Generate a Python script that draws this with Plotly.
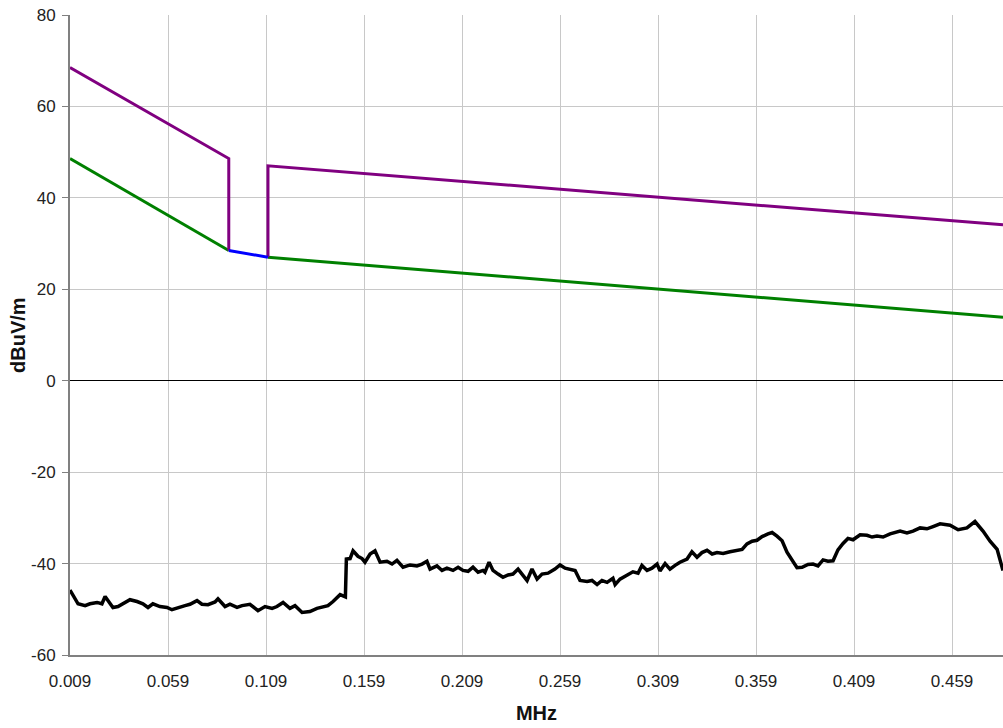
import plotly.graph_objects as go

# Limit lines (MHz, dBuV/m)
purple_f = [0.009, 0.090, 0.090]
purple_v = [68.5, 48.6, 28.5]
purple2_f = [0.110, 0.110, 0.485]
purple2_v = [27.0, 47.0, 34.1]
green_f = [0.009, 0.090]
green_v = [48.6, 28.5]
blue_f = [0.090, 0.110]
blue_v = [28.5, 27.0]
green2_f = [0.110, 0.485]
green2_v = [27.0, 13.9]

# Measured trace
meas_f = [0.0090, 0.0131, 0.0167, 0.0192, 0.0228, 0.0253, 0.0269, 0.0284, 0.0309, 0.0335,
          0.0371, 0.0396, 0.0432, 0.0462, 0.0488, 0.0513, 0.0549, 0.0585, 0.0610, 0.0641,
          0.0677, 0.0702, 0.0738, 0.0763, 0.0794, 0.0830, 0.0845, 0.0881, 0.0906, 0.0942,
          0.0968, 0.1008, 0.1049, 0.1085, 0.1121, 0.1146, 0.1177, 0.1212, 0.1238, 0.1274,
          0.1314, 0.1350, 0.1381, 0.1406, 0.1432, 0.1468, 0.1495, 0.1500, 0.1519, 0.1534,
          0.1559, 0.1580, 0.1595, 0.1621, 0.1646, 0.1672, 0.1707, 0.1733, 0.1758, 0.1789,
          0.1825, 0.1860, 0.1886, 0.1911, 0.1927, 0.1962, 0.1988, 0.2013, 0.2044, 0.2070,
          0.2095, 0.2121, 0.2146, 0.2172, 0.2197, 0.2207, 0.2228, 0.2248, 0.2274, 0.2299,
          0.2325, 0.2350, 0.2376, 0.2401, 0.2422, 0.2447, 0.2473, 0.2498, 0.2529, 0.2564,
          0.2590, 0.2616, 0.2641, 0.2667, 0.2692, 0.2728, 0.2753, 0.2779, 0.2804, 0.2830,
          0.2860, 0.2871, 0.2896, 0.2932, 0.2962, 0.2988, 0.3008, 0.3034, 0.3059, 0.3085,
          0.3100, 0.3126, 0.3151, 0.3177, 0.3202, 0.3238, 0.3263, 0.3289, 0.3314, 0.3340,
          0.3366, 0.3391, 0.3422, 0.3457, 0.3493, 0.3519, 0.3544, 0.3570, 0.3595, 0.3621,
          0.3651, 0.3672, 0.3697, 0.3723, 0.3748, 0.3774, 0.3799, 0.3825, 0.3855, 0.3881,
          0.3906, 0.3932, 0.3957, 0.3983, 0.4008, 0.4034, 0.4059, 0.4085, 0.4121, 0.4156,
          0.4182, 0.4207, 0.4238, 0.4274, 0.4325, 0.4360, 0.4391, 0.4427, 0.4462, 0.4493,
          0.4529, 0.4580, 0.4621, 0.4666, 0.4707, 0.4748, 0.4784, 0.4820, 0.4850]
meas_v = [-45.8, -48.8, -49.2, -48.8, -48.5, -48.8, -47.2, -48.1, -49.6, -49.4,
          -48.5, -47.9, -48.3, -48.8, -49.6, -48.8, -49.4, -49.6, -50.1, -49.6,
          -49.2, -48.9, -48.1, -48.9, -49.0, -48.4, -47.7, -49.4, -48.9, -49.6,
          -49.2, -48.9, -50.3, -49.4, -49.8, -49.4, -48.5, -49.8, -49.2, -50.7,
          -50.5, -49.8, -49.4, -49.2, -48.3, -46.8, -47.3, -39.0, -38.9, -37.2,
          -38.4, -38.9, -39.7, -37.9, -37.2, -39.7, -39.5, -40.1, -39.3, -40.8,
          -40.3, -40.5, -40.1, -39.5, -41.2, -40.5, -41.5, -41.0, -41.5, -40.8,
          -41.5, -41.7, -40.8, -41.9, -41.5, -41.9, -39.7, -41.5, -42.3, -43.0,
          -42.5, -42.3, -41.2, -42.7, -43.7, -41.2, -43.4, -42.3, -42.1, -41.2,
          -40.3, -41.0, -41.2, -41.5, -43.7, -43.9, -43.7, -44.6, -43.7, -44.1,
          -43.2, -44.6, -43.4, -42.5, -41.8, -42.1, -40.4, -41.5, -41.0, -40.1,
          -41.6, -40.0, -41.2, -40.4, -39.7, -39.0, -37.4, -38.6, -37.6, -37.1,
          -37.9, -37.6, -37.8, -37.4, -37.2, -36.9, -35.7, -35.1, -34.9, -34.1,
          -33.5, -33.2, -34.0, -35.0, -37.5, -39.3, -40.9, -40.8, -40.2, -40.1,
          -40.5, -39.2, -39.5, -39.4, -37.0, -35.6, -34.5, -34.8, -33.7, -33.8,
          -34.2, -34.0, -34.2, -33.5, -32.9, -33.3, -32.9, -32.2, -32.4, -31.9,
          -31.3, -31.6, -32.6, -32.2, -30.8, -32.9, -35.1, -36.9, -41.5]

x_tickvals = [0.009, 0.059, 0.109, 0.159, 0.209, 0.259, 0.309, 0.359, 0.409, 0.459]
x_ticktext = ["0.009", "0.059", "0.109", "0.159", "0.209", "0.259", "0.309", "0.359", "0.409", "0.459"]
y_tickvals = [-60, -40, -20, 0, 20, 40, 60, 80]
y_ticktext = ["-60", "-40", "-20", "0", "20", "40", "60", "80"]

fig = go.Figure()
fig.add_trace(go.Scatter(x=meas_f, y=meas_v, mode="lines",
                         line=dict(color="#000000", width=3.5), showlegend=False))
fig.add_trace(go.Scatter(x=green_f, y=green_v, mode="lines",
                         line=dict(color="#008000", width=3), showlegend=False))
fig.add_trace(go.Scatter(x=green2_f, y=green2_v, mode="lines",
                         line=dict(color="#008000", width=3), showlegend=False))
fig.add_trace(go.Scatter(x=purple_f, y=purple_v, mode="lines",
                         line=dict(color="#800080", width=3), showlegend=False))
fig.add_trace(go.Scatter(x=purple2_f, y=purple2_v, mode="lines",
                         line=dict(color="#800080", width=3), showlegend=False))
fig.add_trace(go.Scatter(x=blue_f, y=blue_v, mode="lines",
                         line=dict(color="#0000FF", width=3), showlegend=False))

tick_font = dict(family="Liberation Sans, Arial", size=17, color="#222222")
title_font = dict(family="Liberation Sans, Arial", size=20, color="#111111")

fig.update_layout(
    width=1003, height=728,
    margin=dict(l=70, r=0, t=15, b=73),
    paper_bgcolor="white", plot_bgcolor="white",
    xaxis=dict(
        range=[0.009, 0.485], tickvals=x_tickvals, ticktext=x_ticktext,
        showgrid=True, gridcolor="#c8c8c8", gridwidth=1,
        showline=True, linecolor="#808080", linewidth=2,
        ticks="", tickfont=tick_font, zeroline=False, ticklabelstandoff=10,
        ticklabeloverflow="allow",
        title=dict(text="<b>MHz</b>", font=title_font, standoff=16),
    ),
    yaxis=dict(
        range=[-60, 80], tickvals=y_tickvals, ticktext=y_ticktext,
        showgrid=True, gridcolor="#c8c8c8", gridwidth=1,
        showline=True, linecolor="#808080", linewidth=2,
        ticks="outside", ticklen=6, tickcolor="#808080", tickfont=tick_font,
        zeroline=True, zerolinecolor="#000000", zerolinewidth=1, ticklabelstandoff=3,
        ticklabeloverflow="allow",
    ),
    annotations=[dict(text="<b>dBuV/m</b>", font=title_font, textangle=-90,
                      xref="paper", yref="paper", x=-52 / 933, y=0.5,
                      xanchor="center", yanchor="middle", showarrow=False)],
)

fig.write_html("out.html", config={"displayModeBar": False},
               post_script="document.body.style.margin='0';document.body.style.overflow='hidden';")
